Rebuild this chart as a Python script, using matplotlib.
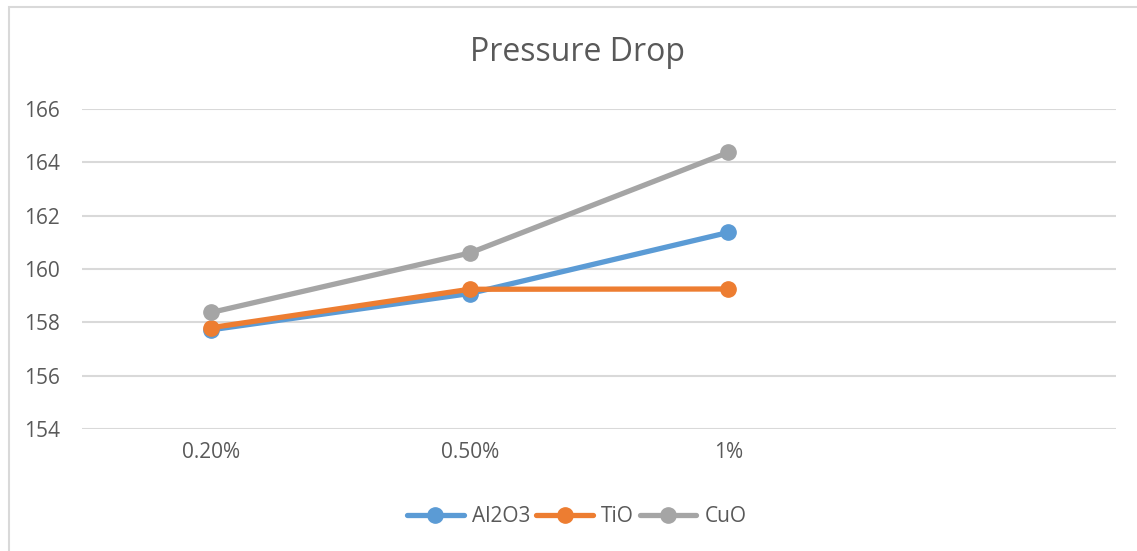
import numpy as np
import matplotlib.pyplot as plt
from matplotlib.patches import Rectangle

plt.rcParams['font.family'] = ['Open Sans', 'DejaVu Sans']

categories = ['0.20%', '0.50%', '1%', '']
al2o3 = [157.72, 159.08, 161.37]
tio = [157.80, 159.24, 159.25]
cuo = [158.37, 160.60, 164.37]
yticks = [154, 156, 158, 160, 162, 164, 166]

series = [('Al2O3', al2o3, '#5B9BD5'),
          ('TiO', tio, '#ED7D31'),
          ('CuO', cuo, '#A5A5A5')]

fig = plt.figure(figsize=(11.37, 5.51), dpi=100)
ax = fig.add_axes([0.0721, 0.2214, 0.9094, 0.5808])

# light frame around the chart area
fig.patches.append(Rectangle((9 / 1137, -0.1), 1.2, 1 - 7 / 551 + 0.1,
                             transform=fig.transFigure, fill=False,
                             edgecolor='#D9D9D9', linewidth=1.5))

x = np.arange(len(categories))
for name, vals, color in series:
    ax.plot(x[:len(vals)], vals, color=color, linewidth=3.8, marker='o',
            markersize=11, label=name, solid_capstyle='round', zorder=3)

ax.set_xlim(-0.5, len(categories) - 0.5)
ax.set_ylim(154, 166)
ax.set_yticks(yticks)
ax.set_xticks(x)
ax.set_xticklabels(categories)
ax.grid(axis='y', color='#D9D9D9', linewidth=1.5)
ax.set_axisbelow(True)
for s in ax.spines.values():
    s.set_visible(False)
ax.tick_params(length=0, labelsize=15, colors='#595959', pad=9)
ax.tick_params(axis='y', pad=16)

# title and legend sit centred on the framed area, not the whole canvas
cx = 577 / 1137
fig.text(cx, 0.904, 'Pressure Drop', ha='center', va='center',
         fontsize=23, color='#595959')

fig.legend(loc='center', bbox_to_anchor=(cx, 0.062), ncol=3, frameon=False,
           fontsize=15, labelcolor='#595959', handlelength=2.7,
           handletextpad=0.4, columnspacing=0.3)

fig.savefig('out.png', dpi=100, facecolor='white')
